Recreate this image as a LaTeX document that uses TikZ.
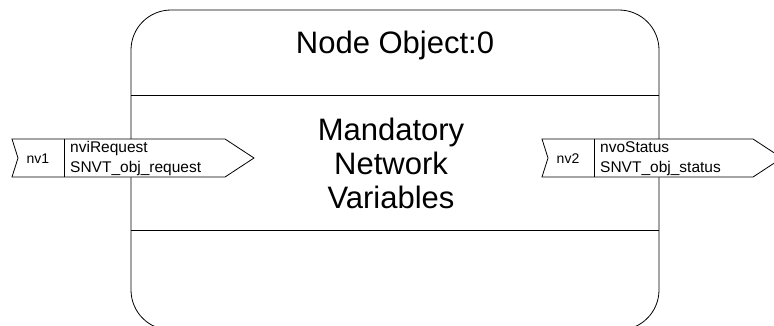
\documentclass[tikz,border=0pt]{standalone}
\usepackage{fontspec}
\setmainfont{Liberation Sans}
\usetikzlibrary{calc}

\tikzset{
  objline/.style={line width=0.8pt},
  bigtext/.style={font=\fontsize{31}{34}\selectfont, align=center, inner sep=0pt},
  porttext/.style={font=\fontsize{15.5}{20}\selectfont, inner sep=0pt, anchor=base west},
  nvtext/.style={font=\fontsize{14}{16}\selectfont, inner sep=0pt}
}

\begin{document}
\begin{tikzpicture}[x=1pt,y=-1pt]
	\useasboundingbox (0,0) rectangle (774,325);
	\clip (0,0) rectangle (774,325);
	
	% node object
	\draw[objline, rounded corners=40pt] (131,330) rectangle (659,10);
	\draw[objline] (131,95) -- (659,95);
	\draw[objline] (131,230) -- (659,230);
	\node[bigtext] (title) at (395,45) {Node Object:0};
	\node[bigtext] (body) at (391,163) {Mandatory\\Network\\Variables};
	
	% input variable
	\draw[objline, fill=white] (12,139) -- (225,139) -- (254,158) -- (225,177) -- (12,177) -- (18,158) -- cycle;
	\draw[objline] (64,139) -- (64,177);
	\node[nvtext] (nv1) at (38,159) {nv1};
	\node[porttext] (nviname) at (70,152) {nviRequest};
	\node[porttext] (nvitype) at (70,172) {SNVT\_obj\_request};
	
	% output variable
	\draw[objline, fill=white] (542,139) -- (753,139) -- (782,158) -- (753,177) -- (542,177) -- (548,158) -- cycle;
	\draw[objline] (594,139) -- (594,177);
	\node[nvtext] (nv2) at (568,159) {nv2};
	\node[porttext] (nvoname) at (600,152) {nvoStatus};
	\node[porttext] (nvotype) at (600,172) {SNVT\_obj\_status};
\end{tikzpicture}
\end{document}
